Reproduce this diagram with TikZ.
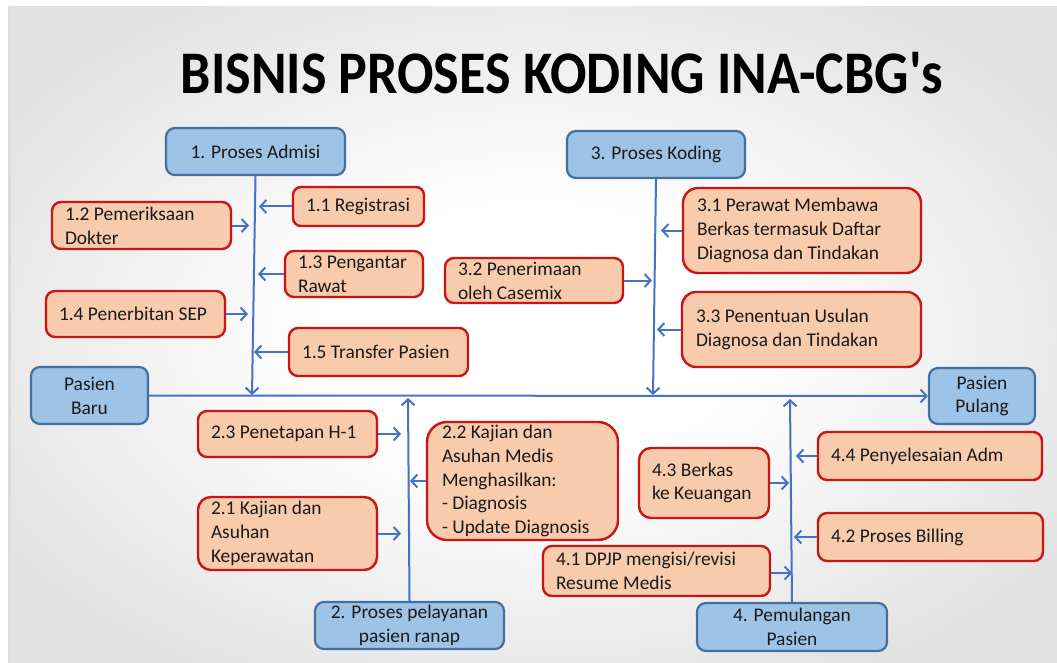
\documentclass[tikz,border=0pt]{standalone}
\usepackage{fontspec}
\setmainfont{Carlito}
\usetikzlibrary{arrows.meta}
\definecolor{lineblue}{HTML}{4472C4}
\definecolor{bfill}{HTML}{9DC3E6}
\definecolor{bdraw}{HTML}{41719C}
\definecolor{ofill}{HTML}{F8CBAD}
\definecolor{odraw}{HTML}{CC1414}
\definecolor{txt}{HTML}{1A1A1A}
\definecolor{bggray}{HTML}{E2E2E2}
\pgfdeclareradialshading{slidebg}{\pgfpoint{0bp}{0bp}}{color(0bp)=(white); color(10bp)=(white); color(30bp)=(bggray); color(50bp)=(bggray)}
\newcommand\bodyfont{\fontsize{19.4}{23.8}\selectfont}
\tikzset{
  bluebox/.style={draw=bdraw, fill=bfill, line width=2.2pt, align=center, font=\bodyfont, text=txt, inner sep=0pt, rounded corners=9pt},
  orangebox/.style={draw=odraw, fill=ofill, line width=2.4pt, align=flush left, font=\bodyfont, text=txt, inner xsep=13pt, inner ysep=0pt},
  link/.style={draw=lineblue, line width=2pt},
  arr/.style={draw=lineblue, line width=2pt, -{Straight Barb[length=6pt,width=13pt]}}
}
\begin{document}
\begin{tikzpicture}[x=1pt,y=-1pt]
\useasboundingbox (0,0) rectangle (1057,663);
\fill[white] (0,0) rectangle (1057,663);
\shade[shading=slidebg] (8,7) rectangle (1057,663);
\fill[black!14] (8,7) rectangle (11,663);

\node[font=\fontsize{54}{60}\selectfont\bfseries, text=black, inner sep=0pt] (title) at (562,73) {\scalebox{1}[1.12]{BISNIS PROSES KODING INA-CBG\textquotesingle s}};

% blue boxes
\node[bluebox, minimum width=179pt, minimum height=47pt] (adm) at (255.5,151.5) {1. Proses Admisi};
\node[bluebox, minimum width=178pt, minimum height=47pt] (kod) at (656,154.5) {3. Proses Koding};
\node[bluebox, minimum width=117pt, minimum height=57pt] (baru) at (89.5,395.5) {Pasien\\Baru};
\node[bluebox, minimum width=106pt, minimum height=56pt] (pulang) at (982,396) {Pasien\\Pulang};
\node[bluebox, minimum width=189pt, minimum height=47pt] (pel) at (409.5,625.5) {2. Proses pelayanan\\pasien ranap};
\node[bluebox, minimum width=190pt, minimum height=48pt] (pem) at (792,627) {4. Pemulangan\\Pasien};

% orange boxes
\node[orangebox, text width=105pt, minimum height=39pt, rounded corners=8pt] (b11) at (358.5,206.5) {\mbox{1.1 Registrasi}};
\node[orangebox, text width=153pt, minimum height=47pt, rounded corners=9pt] (b12) at (141.5,225.5) {1.2 Pemeriksaan\\Dokter};
\node[orangebox, text width=112pt, minimum height=46pt, rounded corners=9pt] (b13) at (354,274) {1.3 Pengantar\\Rawat};
\node[orangebox, text width=153pt, minimum height=46pt, rounded corners=9pt] (b14) at (135.5,314) {\mbox{1.4 Penerbitan SEP}};
\node[orangebox, text width=153pt, minimum height=48pt, rounded corners=9pt] (b15) at (378.5,352) {\mbox{1.5 Transfer Pasien}};
\node[orangebox, text width=210pt, minimum height=85pt, rounded corners=15pt, inner xsep=14pt] (b31) at (802,230.5) {3.1 Perawat Membawa\\\mbox{Berkas termasuk Daftar}\\\mbox{Diagnosa dan Tindakan}};
\node[orangebox, text width=152pt, minimum height=45pt, rounded corners=9pt] (b32) at (534,280.5) {3.2 Penerimaan\\oleh Casemix};
\node[orangebox, text width=211pt, minimum height=75pt, rounded corners=14pt, inner xsep=14pt] (b33) at (801.5,329.5) {3.3 Penentuan Usulan\\\mbox{Diagnosa dan Tindakan}};
\node[orangebox, text width=153pt, minimum height=46pt, rounded corners=9pt] (b23) at (287.5,434) {\mbox{2.3 Penetapan H-1}};
\node[orangebox, text width=153pt, minimum height=73pt, rounded corners=13pt] (b21) at (287.5,533.5) {2.1 Kajian dan\\Asuhan\\Keperawatan};
\node[orangebox, text width=161pt, minimum height=118pt, rounded corners=20pt, inner xsep=15pt] (b22) at (522.5,481) {2.2 Kajian dan\\Asuhan Medis\\Menghasilkan:\\- Diagnosis\\\mbox{- Update Diagnosis}};
\node[orangebox, text width=104pt, minimum height=70pt, rounded corners=12pt] (b43) at (704,483) {4.3 Berkas\\\mbox{ke Keuangan}};
\node[orangebox, text width=198pt, minimum height=48pt, rounded corners=9pt] (b44) at (930,456) {\mbox{4.4 Penyelesaian Adm}};
\node[orangebox, text width=199pt, minimum height=48pt, rounded corners=9pt] (b42) at (930.5,537) {\mbox{4.2 Proses Billing}};
\node[orangebox, text width=201pt, minimum height=50pt, rounded corners=9pt] (b41) at (656.5,571) {\mbox{4.1 DPJP mengisi/revisi}\\Resume Medis};

% main flow
\draw[arr] (baru.east) -- (pulang.west);
\coordinate (m1) at (252,395);
\coordinate (m3) at (653,395);
\coordinate (m2) at (408,398);
\coordinate (m4) at (790,399);
\draw[arr] (adm.south) -- (m1);
\draw[arr] (kod.south) -- (m3);
\draw[arr] (pel.north) -- (m2);
\draw[arr] (pem.north) -- (m4);

% branch tips
\coordinate (t11) at (259,0);
\coordinate (t12) at (249,0);
\coordinate (t13) at (258,0);
\coordinate (t14) at (248,0);
\coordinate (t15) at (254,0);
\coordinate (t31) at (661,0);
\coordinate (t32) at (652,0);
\coordinate (t33) at (657,0);
\coordinate (t23) at (401,0);
\coordinate (t22) at (410,0);
\coordinate (t21) at (401,0);
\coordinate (t44) at (796,0);
\coordinate (t43) at (789,0);
\coordinate (t42) at (794,0);
\coordinate (t41) at (792,0);

\draw[arr] (b11.west) -- (b11.west -| t11);
\draw[arr] (b12.east) -- (b12.east -| t12);
\draw[arr] (b13.west) -- (b13.west -| t13);
\draw[arr] (b14.east) -- (b14.east -| t14);
\draw[arr] (b15.west) -- (b15.west -| t15);
\draw[arr] (b31.west) -- (b31.west -| t31);
\draw[arr] (b32.east) -- (b32.east -| t32);
\draw[arr] (b33.west) -- (b33.west -| t33);
\draw[arr] (b23.east) -- (b23.east -| t23);
\draw[arr] (b22.west) -- (b22.west -| t22);
\draw[arr] (b21.east) -- (b21.east -| t21);
\draw[arr] (b44.west) -- (b44.west -| t44);
\draw[arr] (b43.east) -- (b43.east -| t43);
\draw[arr] (b42.west) -- (b42.west -| t42);
\draw[arr] ([yshift=-2pt]b41.east) -- ([yshift=-2pt]b41.east -| t41);
\end{tikzpicture}
\end{document}
